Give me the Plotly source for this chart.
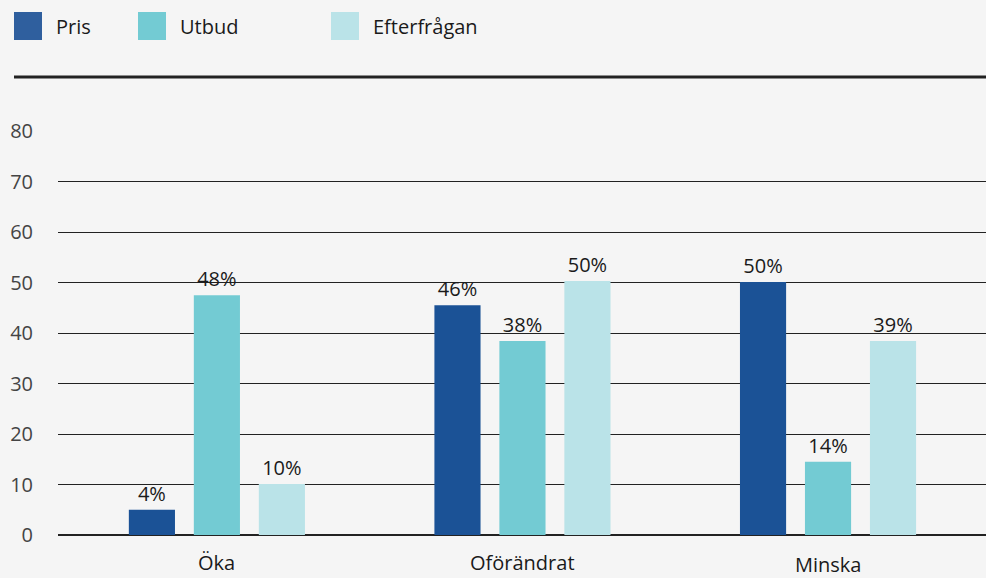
import plotly.graph_objects as go

categories = ["Öka", "Oförändrat", "Minska"]
series_names = ["Pris", "Utbud", "Efterfrågan"]
pris = [5.0, 45.5, 50.1]
utbud = [47.5, 38.4, 14.5]
efterfragan = [10.1, 50.3, 38.4]
pris_labels = ["4%", "46%", "50%"]
utbud_labels = ["48%", "38%", "14%"]
efterfragan_labels = ["10%", "50%", "39%"]
y_ticks = [0, 10, 20, 30, 40, 50, 60, 70, 80]

colors = ["#1b5296", "#73cbd3", "#bae3e8"]
legend_colors = ["#2f5f9e", "#73cbd3", "#bae3e8"]
FONT = "Open Sans"

fig = go.Figure()
for name, vals, labels, col in zip(series_names, [pris, utbud, efterfragan],
                                    [pris_labels, utbud_labels, efterfragan_labels], colors):
    fig.add_trace(go.Bar(
        x=categories, y=vals, name=name, marker_color=col, marker_line_width=0,
        text=labels, textposition="outside", cliponaxis=False,
        textfont=dict(family=FONT, size=20, color="#1a1a1a"),
        showlegend=False,
    ))

fig.update_layout(
    width=986, height=578,
    margin=dict(l=58, r=0, t=131, b=43),
    paper_bgcolor="#f5f5f5", plot_bgcolor="#f5f5f5",
    barmode="group", bargap=0.362, bargroupgap=0.29,
    font=dict(family=FONT, color="#333333"),
    xaxis=dict(range=[-0.52, 2.517], showticklabels=False, showgrid=False,
               zeroline=False, showline=False, ticks=""),
    yaxis=dict(range=[0, 80], tickvals=y_ticks, showgrid=True, gridcolor="#222222",
               gridwidth=1, zeroline=True, zerolinecolor="#222222", zerolinewidth=1.5,
               showline=False, ticks="", ticklabelstandoff=24,
               tickfont=dict(family=FONT, size=20, color="#444444")),
)

# category labels
label_shift = [-27, -27, -29]
for cat, ys in zip(categories, label_shift):
    fig.add_annotation(x=cat, y=0, xref="x", yref="y", text=cat, showarrow=False,
                       yshift=ys, font=dict(family=FONT, size=20, color="#1a1a1a"))

# legend (drawn manually for large square swatches)
legend_x = [14, 138, 331]
for name, col, lx in zip(series_names, legend_colors, legend_x):
    fig.add_shape(type="rect", xref="paper", yref="paper",
                  x0=(lx - 58) / 928, x1=(lx + 28 - 58) / 928,
                  y0=(578 - 43 - 40) / 404, y1=(578 - 43 - 12) / 404,
                  fillcolor=col, line_width=0, layer="above")
    fig.add_annotation(xref="paper", yref="paper", x=(lx + 40 - 58) / 928,
                       y=(578 - 43 - 26) / 404, text=name, showarrow=False,
                       xanchor="left", yanchor="middle",
                       font=dict(family=FONT, size=20, color="#1a1a1a"))

# top rule
fig.add_shape(type="line", xref="paper", yref="paper",
              x0=(14 - 58) / 928, x1=1, y0=(578 - 43 - 77) / 404, y1=(578 - 43 - 77) / 404,
              line=dict(color="#222222", width=3))

fig.write_html("out.html", config={"displayModeBar": False},
               post_script="document.body.style.margin='0';")
